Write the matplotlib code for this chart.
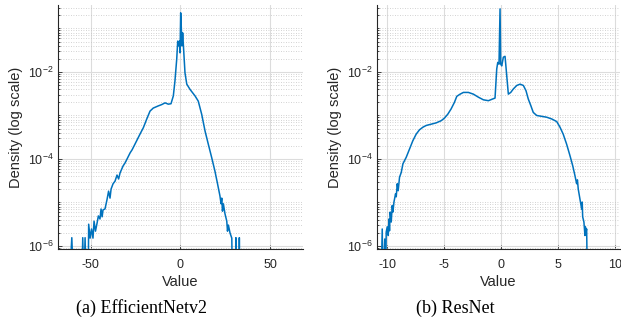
import numpy as np
import matplotlib
matplotlib.use("Agg")
import matplotlib.pyplot as plt
from matplotlib.ticker import FixedLocator, NullFormatter

plt.rcParams['font.family'] = ['Liberation Sans', 'DejaVu Sans']
plt.rcParams['mathtext.default'] = 'regular'
plt.rcParams['axes.unicode_minus'] = False

# EfficientNetv2 activations: value vs log10(density)
eff_x = [-62.0, -60.5, -59.5, -55.0, -54.4, -53.8, -53.1, -52.5, -51.4, -51.1,
         -50.3, -49.5, -48.7, -48.1, -47.3, -46.4, -45.7, -44.8, -44.2, -43.6,
         -43.1, -42.0, -40.9, -40.0, -39.2, -38.6, -37.5, -36.4, -35.3, -34.4,
         -33.6, -31.9, -30.8, -29.7, -28.0, -26.9, -25.3, -22.5, -20.6, -18.7,
         -16.9, -15.1, -12.3, -10.4, -8.5, -6.7, -5.2, -3.9, -3.0, -2.0,
         -1.45, -0.9, -0.55, -0.15, 0.2, 0.55, 0.95, 1.3, 1.9, 2.6,
         3.6, 5.4, 8.2, 10.0, 11.9, 13.8, 15.6, 17.5, 19.3, 20.6,
         22.1, 22.7, 23.1, 23.5, 24.0, 24.9, 25.9, 26.3, 26.8, 27.7,
         28.7, 29.1, 30.8, 31.0, 31.3, 32.7, 32.9, 33.2]
eff_logd = [-7, -5.81, -7, -7, -5.81, -7, -5.81, -7, -7, -5.50,
            -5.82, -5.61, -5.82, -5.43, -5.66, -5.47, -5.31, -5.38, -5.15, -5.33,
            -5.17, -5.15, -4.94, -4.74, -4.90, -4.69, -4.57, -4.51, -4.37, -4.46,
            -4.32, -4.16, -4.09, -4.00, -3.86, -3.79, -3.66, -3.43, -3.28, -3.08,
            -2.90, -2.83, -2.78, -2.75, -2.71, -2.74, -2.73, -2.55, -2.21, -1.70,
            -1.29, -1.40, -1.29, -1.56, -0.64, -0.98, -1.40, -1.10, -1.52, -2.02,
            -2.28, -2.40, -2.55, -2.67, -2.97, -3.36, -3.66, -3.97, -4.28, -4.54,
            -4.85, -5.03, -4.90, -5.20, -5.03, -5.26, -5.43, -5.66, -5.52, -5.70,
            -5.82, -7, -7, -5.81, -7, -7, -5.81, -7]

# ResNet activations
res_x = [-10.55, -10.44, -10.38, -10.22, -10.15, -10.09, -10.0, -9.91, -9.85, -9.80,
         -9.74, -9.65, -9.56, -9.50, -9.41, -9.27, -9.21, -9.12, -9.04, -8.92,
         -8.77, -8.62, -8.33, -8.04, -7.75, -7.46, -7.17, -6.87, -6.58, -6.14,
         -5.70, -5.26, -4.97, -4.68, -4.39, -4.10, -3.89, -3.60, -3.31, -2.87,
         -2.43, -1.99, -1.55, -1.11, -0.73, -0.53, -0.38, -0.29, -0.18, -0.09,
         -0.03, 0.06, 0.20, 0.35, 0.50, 0.64, 0.85, 1.08, 1.38, 1.67,
         1.96, 2.19, 2.39, 2.61, 2.83, 3.13, 3.57, 4.01, 4.45, 4.89,
         5.18, 5.46, 5.76, 6.05, 6.29, 6.49, 6.64, 6.71, 6.78, 6.93,
         7.08, 7.13, 7.17, 7.28, 7.37, 7.41, 7.46, 7.52, 7.59]
res_logd = [-7, -5.61, -7, -5.84, -7, -5.68, -5.56, -5.76, -5.38, -5.65,
            -5.22, -5.45, -5.07, -5.22, -4.99, -4.80, -4.87, -4.57, -4.73, -4.42,
            -4.31, -4.11, -3.96, -3.77, -3.58, -3.43, -3.33, -3.27, -3.23, -3.20,
            -3.17, -3.12, -3.06, -2.97, -2.85, -2.70, -2.56, -2.51, -2.47, -2.47,
            -2.51, -2.58, -2.64, -2.66, -2.62, -2.60, -1.93, -1.78, -1.82, -0.55,
            -1.82, -1.86, -1.66, -1.64, -2.09, -2.51, -2.47, -2.39, -2.31, -2.28,
            -2.31, -2.43, -2.62, -2.77, -2.93, -3.00, -3.02, -3.04, -3.08, -3.14,
            -3.27, -3.43, -3.66, -3.92, -4.15, -4.38, -4.57, -4.48, -4.69, -4.92,
            -5.15, -4.99, -5.33, -5.45, -5.76, -5.56, -5.68, -5.61, -7]

eff_ticks = [-50, 0, 50]
res_ticks = [-10, -5, 0, 5, 10]
captions = ['(a) EfficientNetv2', '(b) ResNet']

W, H = 621, 328
fig = plt.figure(figsize=(W / 100, H / 100), dpi=100)
ax1 = fig.add_axes([58 / W, 79 / H, 245 / W, 244 / H])
ax2 = fig.add_axes([377 / W, 79 / H, 243 / W, 244 / H])

blue = '#0072BD'
dark = '#262626'
minors = [m * 10.0 ** k for k in range(-7, 1) for m in range(1, 10)]
minors = [v for v in minors if v not in (1e-6, 1e-4, 1e-2)]

def style(ax, xs, ys, ticks, xlim):
    ax.plot(xs, 10.0 ** np.array(ys), color=blue, lw=1.1, zorder=3)
    ax.set_yscale('log')
    ax.set_xlim(*xlim)
    ax.set_ylim(10 ** -6.07, 10 ** -0.46)
    ax.xaxis.set_major_locator(FixedLocator(ticks))
    ax.set_xticklabels([str(t) for t in ticks])
    ax.yaxis.set_major_locator(FixedLocator([1e-6, 1e-4, 1e-2]))
    ax.set_yticklabels([r'$10^{-6}$', r'$10^{-4}$', r'$10^{-2}$'])
    ax.yaxis.set_minor_locator(FixedLocator(minors))
    ax.yaxis.set_minor_formatter(NullFormatter())
    ax.grid(True, which='major', color='#dcdcdc', lw=0.8, ls='-', zorder=0)
    ax.grid(True, which='minor', axis='y', color='#c4c4c4', lw=0.6, ls=(0, (1, 2)), zorder=0)
    ax.set_axisbelow(True)
    for s in ['top', 'right']:
        ax.spines[s].set_visible(False)
    for s in ['left', 'bottom']:
        ax.spines[s].set_color(dark)
        ax.spines[s].set_linewidth(0.8)
    ax.tick_params(which='both', direction='in', colors=dark, labelsize=9, width=0.6)
    ax.tick_params(which='major', length=3)
    ax.tick_params(which='minor', length=1.5)
    ax.tick_params(axis='x', pad=7)
    ax.tick_params(axis='y', pad=3)
    ax.set_xlabel('Value', fontsize=10.5, color=dark, labelpad=3)
    ax.set_ylabel('Density (log scale)', fontsize=10.5, color=dark, labelpad=4)

style(ax1, eff_x, eff_logd, eff_ticks, (-68.2, 68.4))
style(ax2, res_x, res_logd, res_ticks, (-10.9, 10.45))

fig.text(142 / W, 1 - 308 / H, captions[0], ha='center', va='center',
         fontsize=13, family='Liberation Serif', color='black')
fig.text(455 / W, 1 - 308 / H, captions[1], ha='center', va='center',
         fontsize=13, family='Liberation Serif', color='black')

fig.savefig('out.png', dpi=100)
